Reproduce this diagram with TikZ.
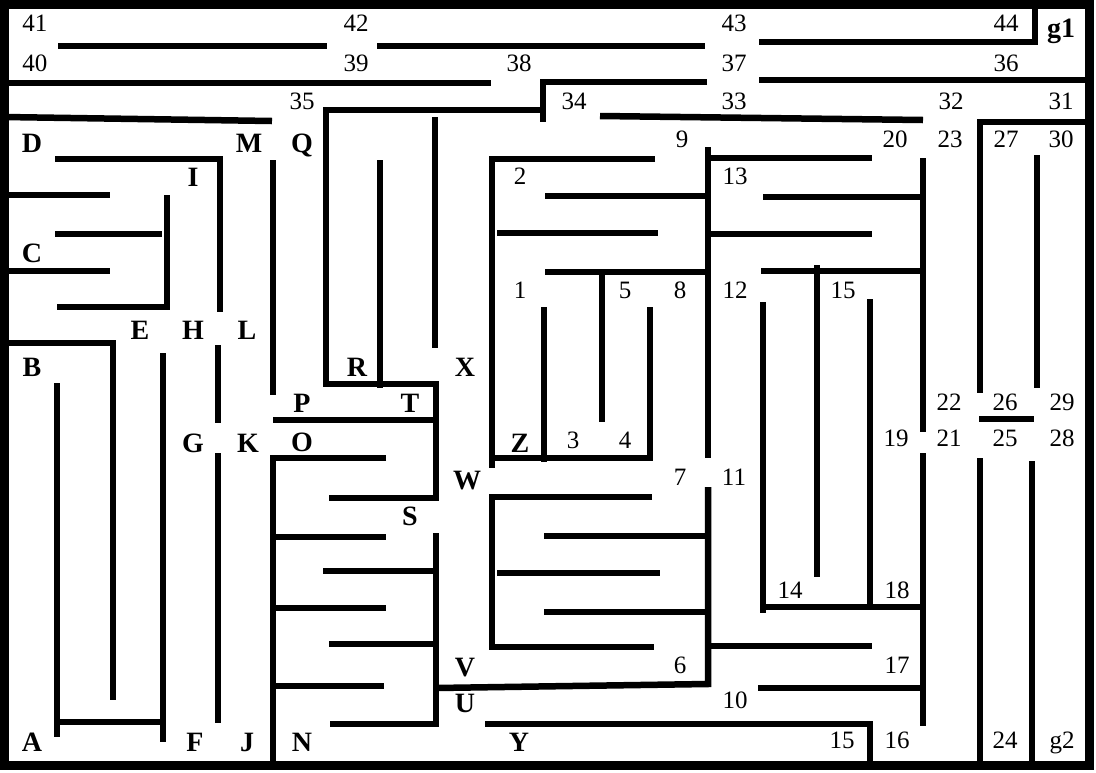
\documentclass[tikz,border=0pt]{standalone}
\usepackage{fontspec}
\setmainfont{Liberation Serif}
\begin{document}
\begin{tikzpicture}[x=1pt,y=-1pt,
  wall/.style={line width=6.5pt},
  border/.style={line width=9pt},
  nlbl/.style={font=\fontsize{25}{25}\selectfont, inner sep=0pt, text height=17pt, text depth=0pt},
  blbl/.style={font=\fontsize{28}{28}\selectfont\bfseries, inner sep=0pt, text height=19pt, text depth=0pt}]
\useasboundingbox (0,0) rectangle (1096,772);
% frame
\draw[border] (4.5,4.5) rectangle (1089.5,765.5);
% top area
\draw[wall] (58,46) -- (327,46);
\draw[wall] (377,46) -- (705,46);
\draw[wall] (759,42) -- (1035,42) -- (1035,4);
\draw[wall] (4,83) -- (491,83);
\draw[wall] (707,82) -- (543,82) -- (543,122);
\draw[wall] (759,80) -- (1089,80);
\draw[wall] (4,117) -- (272,121);
\draw[wall] (600,116) -- (923,120);
% central snake
\draw[wall] (543,110) -- (326,110) -- (326,384) -- (436,384) -- (436,498) -- (329,498);
\draw[wall] (380,160) -- (380,388);
\draw[wall] (435,117) -- (435,348);
\draw[wall] (273,420) -- (436,420);
% right top
\draw[wall] (1089,122) -- (980,122) -- (980,393);
\draw[wall] (1037,155) -- (1037,388);
\draw[wall] (979,419) -- (1034,419);
\draw[wall] (980,458) -- (980,765);
\draw[wall] (1032,461) -- (1032,765);
% left side
\draw[wall] (55,159) -- (220,159) -- (220,312);
\draw[wall] (273,160) -- (273,395);
\draw[wall] (4,195) -- (110,195);
\draw[wall] (55,234) -- (162,234);
\draw[wall] (4,271) -- (110,271);
\draw[wall] (57,307) -- (167,307) -- (167,195);
\draw[wall] (4,343) -- (113,343) -- (113,700);
\draw[wall] (57,383) -- (57,737);
\draw[wall] (57,722) -- (163,722);
\draw[wall] (163,353) -- (163,742);
\draw[wall] (218,345) -- (218,423);
\draw[wall] (218,453) -- (218,723);
% lower left comb
\draw[wall] (386,458) -- (273,458) -- (273,765);
\draw[wall] (273,537) -- (386,537);
\draw[wall] (273,608) -- (386,608);
\draw[wall] (273,686) -- (384,686);
\draw[wall] (436,533) -- (436,724) -- (330,724);
\draw[wall] (323,571) -- (436,571);
\draw[wall] (329,644) -- (436,644);
% lower middle
\draw[wall] (436,688) -- (708,684) -- (708,487);
\draw[wall] (544,536) -- (711,536);
\draw[wall] (544,612) -- (711,612);
\draw[wall] (708,646) -- (872,646);
\draw[wall] (652,497) -- (492,497) -- (492,647) -- (654,647);
\draw[wall] (497,573) -- (660,573);
\draw[wall] (485,724) -- (870,724) -- (870,765);
% lower right
\draw[wall] (758,688) -- (923,688);
\draw[wall] (923,453) -- (923,726);
\draw[wall] (763,302) -- (763,613);
\draw[wall] (763,607) -- (923,607);
\draw[wall] (870,299) -- (870,607);
\draw[wall] (817,265) -- (817,577);
% upper right middle
\draw[wall] (761,271) -- (923,271);
\draw[wall] (763,197) -- (923,197);
\draw[wall] (923,158) -- (923,432);
\draw[wall] (708,158) -- (872,158);
\draw[wall] (708,234) -- (872,234);
\draw[wall] (708,147) -- (708,458);
\draw[wall] (545,196) -- (708,196);
\draw[wall] (545,272) -- (708,272);
\draw[wall] (602,272) -- (602,422);
\draw[wall] (655,159) -- (492,159) -- (492,468);
\draw[wall] (497,233) -- (658,233);
\draw[wall] (544,307) -- (544,462);
\draw[wall] (650,307) -- (650,458) -- (492,458);
% letter labels
\node[blbl] (nA) at (32,742) {A};
\node[blbl] (nB) at (32,367) {B};
\node[blbl] (nC) at (32,253) {C};
\node[blbl] (nD) at (32,143) {D};
\node[blbl] (nE) at (140,330) {E};
\node[blbl] (nF) at (195,742) {F};
\node[blbl] (nG) at (193,443) {G};
\node[blbl] (nH) at (193,330) {H};
\node[blbl] (nI) at (193,177) {I};
\node[blbl] (nJ) at (247,742) {J};
\node[blbl] (nK) at (248,443) {K};
\node[blbl] (nL) at (247,330) {L};
\node[blbl] (nM) at (249,143) {M};
\node[blbl] (nN) at (302,742) {N};
\node[blbl] (nO) at (302,442) {O};
\node[blbl] (nP) at (302,403) {P};
\node[blbl] (nQ) at (302,143) {Q};
\node[blbl] (nR) at (357,367) {R};
\node[blbl] (nS) at (410,516) {S};
\node[blbl] (nT) at (410,403) {T};
\node[blbl] (nU) at (465,703) {U};
\node[blbl] (nV) at (465,667) {V};
\node[blbl] (nW) at (467,480) {W};
\node[blbl] (nX) at (465,367) {X};
\node[blbl] (nY) at (519,742) {Y};
\node[blbl] (nZ) at (520,443) {Z};
\node[blbl] (ng1) at (1061,28) {g1};
% number labels
\node[nlbl] (l41) at (35,23) {41};
\node[nlbl] (l42) at (356,23) {42};
\node[nlbl] (l43) at (734,23) {43};
\node[nlbl] (l44) at (1006,23) {44};
\node[nlbl] (l40) at (35,63) {40};
\node[nlbl] (l39) at (356,63) {39};
\node[nlbl] (l38) at (519,63) {38};
\node[nlbl] (l37) at (734,63) {37};
\node[nlbl] (l36) at (1006,63) {36};
\node[nlbl] (l35) at (302,101) {35};
\node[nlbl] (l34) at (574,101) {34};
\node[nlbl] (l33) at (734,101) {33};
\node[nlbl] (l32) at (951,101) {32};
\node[nlbl] (l31) at (1061,101) {31};
\node[nlbl] (l9) at (682,139) {9};
\node[nlbl] (l20) at (895,139) {20};
\node[nlbl] (l23) at (950,139) {23};
\node[nlbl] (l27) at (1006,139) {27};
\node[nlbl] (l30) at (1061,139) {30};
\node[nlbl] (l2) at (520,176) {2};
\node[nlbl] (l13) at (735,176) {13};
\node[nlbl] (l1) at (520,290) {1};
\node[nlbl] (l5) at (625,290) {5};
\node[nlbl] (l8) at (680,290) {8};
\node[nlbl] (l12) at (735,290) {12};
\node[nlbl] (l15a) at (843,290) {15};
\node[nlbl] (l22) at (949,402) {22};
\node[nlbl] (l26) at (1005,402) {26};
\node[nlbl] (l29) at (1062,402) {29};
\node[nlbl] (l19) at (896,438) {19};
\node[nlbl] (l21) at (949,438) {21};
\node[nlbl] (l25) at (1005,438) {25};
\node[nlbl] (l28) at (1062,438) {28};
\node[nlbl] (l3) at (573,440) {3};
\node[nlbl] (l4) at (625,440) {4};
\node[nlbl] (l7) at (680,477) {7};
\node[nlbl] (l11) at (734,477) {11};
\node[nlbl] (l14) at (790,590) {14};
\node[nlbl] (l18) at (897,590) {18};
\node[nlbl] (l6) at (680,665) {6};
\node[nlbl] (l17) at (897,665) {17};
\node[nlbl] (l10) at (735,700) {10};
\node[nlbl] (l15b) at (842,740) {15};
\node[nlbl] (l16) at (897,740) {16};
\node[nlbl] (l24) at (1005,740) {24};
\node[nlbl] (lg2) at (1062,740) {g2};
\end{tikzpicture}
\end{document}
